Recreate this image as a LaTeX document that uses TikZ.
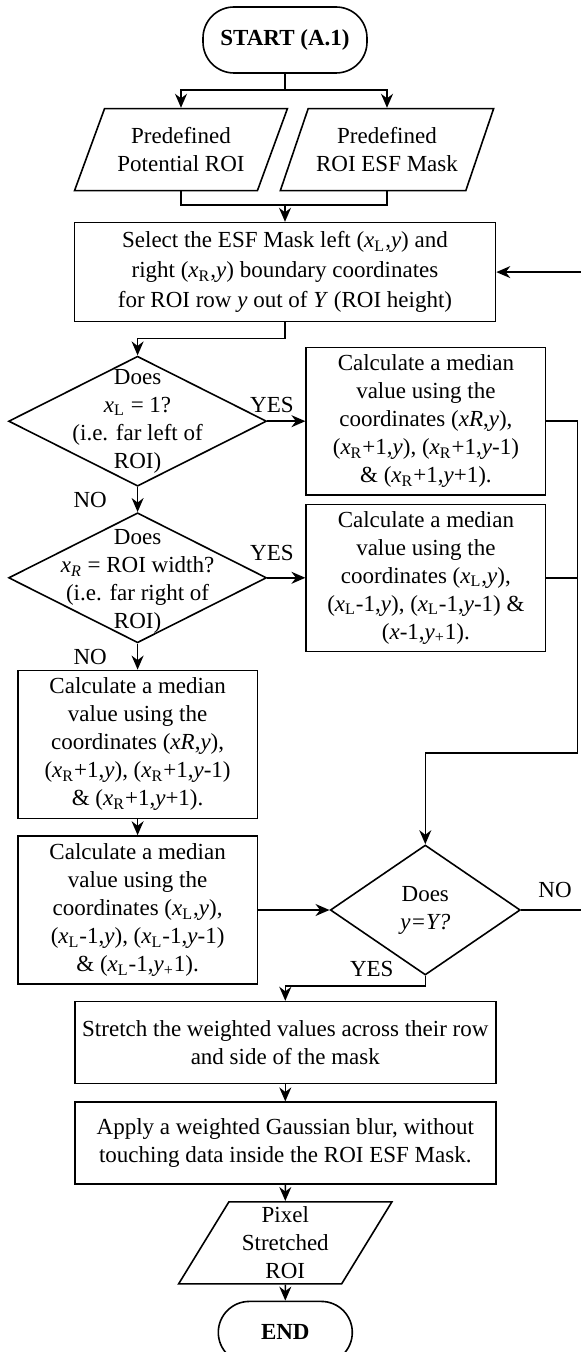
\documentclass[tikz,border=0pt]{standalone}
\usepackage{fontspec}
\setmainfont{Liberation Serif}
\usetikzlibrary{arrows.meta,positioning,shapes.geometric}
\newcommand{\xsubL}{\textit{x}\textsubscript{L}}
\newcommand{\xsubR}{\textit{x}\textsubscript{R}}

\begin{document}
\begin{tikzpicture}[font=\fontsize{11.5pt}{14pt}\selectfont,line width=0.8pt,
      term/.style={draw,rounded corners=15.5pt,minimum width=82pt,minimum height=33pt,
        font=\fontsize{11.5pt}{14pt}\selectfont\bfseries},
      io/.style={draw,trapezium,trapezium left angle=62,trapezium right angle=118,
        trapezium stretches=true,minimum width=107pt,minimum height=41pt,inner xsep=1pt,inner ysep=1pt,align=center},
      proc/.style={draw,minimum width=119.7pt,minimum height=73.5pt,inner sep=1pt,align=center},
      dec/.style={draw,diamond,inner sep=0pt,minimum width=129pt,minimum height=65pt},
      dtxt/.style={align=center,inner sep=0pt},
      lbl/.style={inner sep=2pt},
      arr/.style={-{Stealth[length=7pt,width=6pt]}}]
      \useasboundingbox (0,0) rectangle (290pt,-676pt);
      % main column
      \node[term] (start) at (142.5pt,-20pt) {START (A.1)};
      \node[io,below=17pt of start,xshift=-52pt] (roi) {Predefined\\Potential ROI};
      \node[io,below=17pt of start,xshift=51pt] (mask) {Predefined\\ROI ESF Mask};
      \node[proc,below=74pt of start,minimum width=210.5pt,minimum height=49.5pt,
        font=\fontsize{11.5pt}{15pt}\selectfont] (sel)
        {Select the ESF Mask left (\xsubL,\textit{y}) and\\right (\xsubR,\textit{y}) boundary coordinates\\for ROI row \textit{y} out of \textit{Y} (ROI height)};
      % decisions on the row ends
      \node[dec,below=16.5pt of sel,xshift=-73.7pt,
        label={[dtxt]center:{Does\\\xsubL{} = 1?\\(i.e. far left of\\ROI)}}] (left) {};
      \node[proc,right=19pt of left] (medR)
        {Calculate a median\\value using the\\coordinates (\textit{xR},\textit{y}),\\(\xsubR+1,\textit{y}), (\xsubR+1,\textit{y}-1)\\\& (\xsubR+1,\textit{y}+1).};
      \node[dec,below=12.5pt of left,
        label={[dtxt,yshift=-2pt]center:{Does\\\textit{x}\textsubscript{\textit{R}} = ROI width?\\(i.e. far right of\\ROI)}}] (right) {};
      \node[proc,right=19pt of right] (medL)
        {Calculate a median\\value using the\\coordinates (\xsubL,\textit{y}),\\(\xsubL-1,\textit{y}), (\xsubL-1,\textit{y}-1) \&\\(\textit{x}-1,\textit{y}\textsubscript{+}1).};
      \node[proc,below=13pt of right,minimum height=74pt] (bothR)
        {Calculate a median\\value using the\\coordinates (\textit{xR},\textit{y}),\\(\xsubR+1,\textit{y}), (\xsubR+1,\textit{y}-1)\\\& (\xsubR+1,\textit{y}+1).};
      \node[proc,below=8pt of bothR,minimum height=74pt] (bothL)
        {Calculate a median\\value using the\\coordinates (\xsubL,\textit{y}),\\(\xsubL-1,\textit{y}), (\xsubL-1,\textit{y}-1)\\\& (\xsubL-1,\textit{y}\textsubscript{+}1).};
      \node[dec,right=35.7pt of bothL,minimum width=95pt,
        label={[dtxt]center:{Does\\\textit{y=Y?}}}] (last) {};
      % finishing steps
      \node[proc,below=12.5pt of last,xshift=-70pt,minimum width=210.5pt,minimum height=41pt] (stretch)
        {Stretch the weighted values across their row\\and side of the mask};
      \node[proc,below=8.5pt of stretch,minimum width=210.5pt,minimum height=41pt] (blur)
        {Apply a weighted Gaussian blur, without\\touching data inside the ROI ESF Mask.};
      \node[io,below=8pt of blur] (out) {Pixel\\Stretched\\ROI};
      \node[term,below=8pt of out,minimum width=67pt,minimum height=31pt] (end) {END};
      \node[lbl,left=13.5pt of last.south,yshift=3.5pt] (yes3) {YES};
      % connectors
      \draw[arr] (start.south) -- ++(0,-8pt) coordinate (split) -| (roi.north);
      \draw[arr] (split) -| (mask.north);
      \coordinate[above=8.5pt of sel] (merge);
      \draw (roi.south) |- (merge) -| (mask.south);
      \draw[arr] (merge) -- (sel.north);
      \draw[arr] (sel.south) -- ++(0,-8pt) -| (left.north);
      \draw[arr] (left.east) -- node[lbl,pos=0.12,above,yshift=2pt]{YES} (medR.west);
      \draw[arr] (left.south) -- node[lbl,left=13pt]{NO} (right.north);
      \draw[arr] (right.east) -- node[lbl,pos=0.12,above,yshift=6pt]{YES} (medL.west);
      \draw[arr] (right.south) -- node[lbl,left=13pt]{NO} (bothR.north);
      \draw[arr] (bothR) -- (bothL);
      \draw[arr] (bothL) -- (last);
      \draw (medR.east) -- ++(15.6pt,0) coordinate (bus);
      \draw (medL.east) -- (medL.east -| bus);
      \coordinate[above=45.5pt of last] (busend);
      \draw[arr] (bus) |- (busend) -- (last.north);
      \draw[arr] (last.south) -- ++(0,-5pt) -| (stretch.north);
      \draw[arr] (last.east) -- node[lbl,pos=0.53,above,yshift=3.5pt]{NO} ++(32pt,0) |- (sel.east);
      \draw[arr] (stretch) -- (blur);
      \draw[arr] (blur) -- (out);
      \draw[arr] (out) -- (end);
    \end{tikzpicture}
\end{document}
